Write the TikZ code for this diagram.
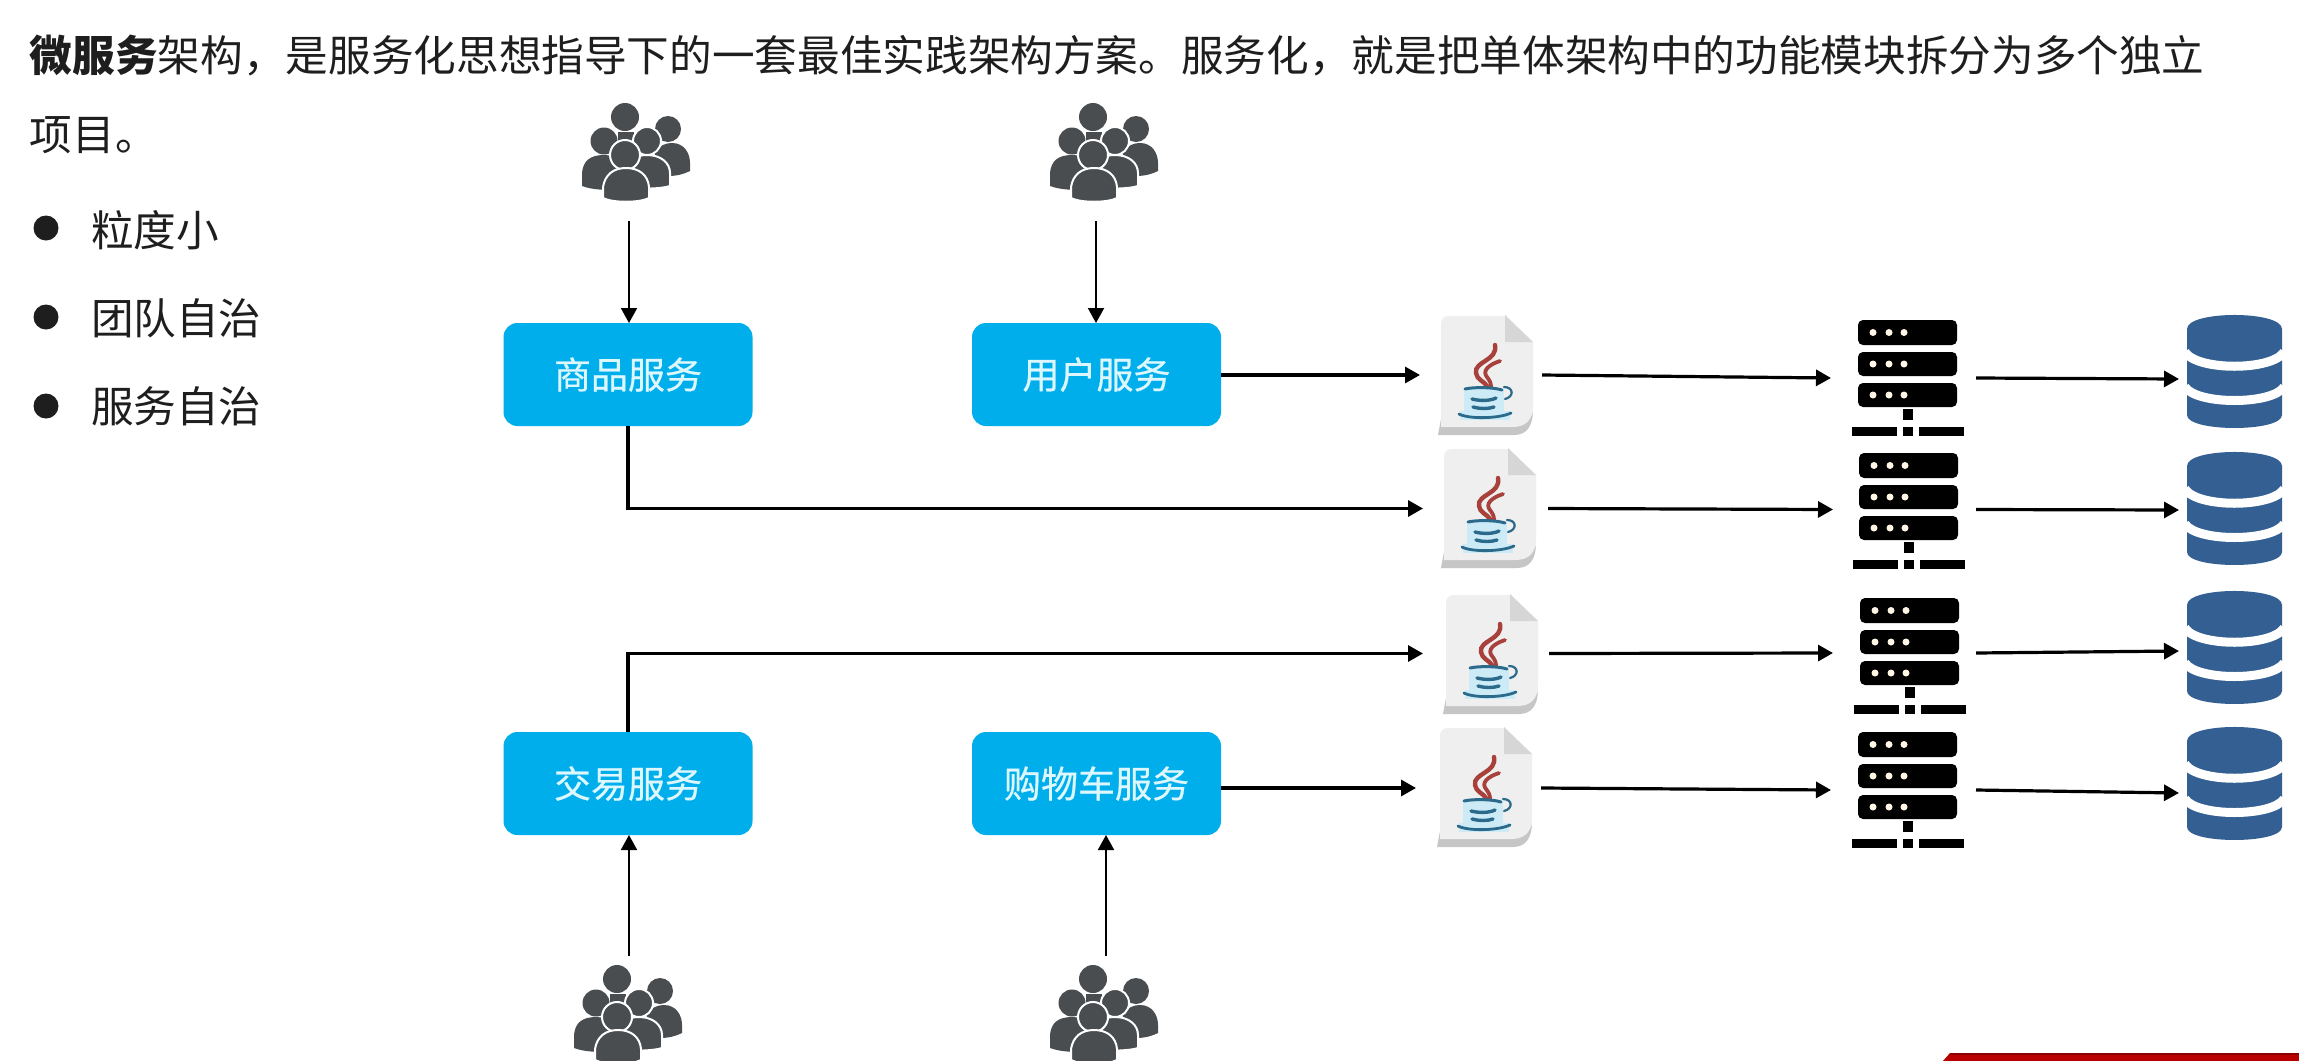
\documentclass[tikz,border=0pt]{standalone}
\usepackage{fontspec}
\setmainfont{Noto Sans CJK SC}
\newfontfamily\boxfont[FakeBold=0.6]{Noto Sans CJK SC}
\usetikzlibrary{arrows.meta,calc}
\definecolor{boxblue}{HTML}{00AEEC}
\definecolor{boxtext}{HTML}{DDF7FF}
\definecolor{peoplegray}{HTML}{4A4D4F}
\definecolor{dbblue}{HTML}{335F92}
\definecolor{inktext}{HTML}{1E1E1E}
\definecolor{barred}{HTML}{B80000}
\definecolor{bardark}{HTML}{8E0000}
\definecolor{paper}{HTML}{EFEFEF}
\definecolor{papershade}{HTML}{C6C6C6}
\definecolor{foldgray}{HTML}{D6D6D6}
\definecolor{steamred}{HTML}{A8403C}
\definecolor{cupblue}{HTML}{2B6A8A}
\definecolor{cupglow}{HTML}{CDEBF7}
\definecolor{dotcream}{HTML}{FFF6E6}
\tikzset{
  x=0.5pt,y=-0.5pt,
  svcbox/.style={draw=none,fill=boxblue,rounded corners=7pt,minimum width=124.5pt,minimum height=51.5pt,inner sep=0pt,outer sep=0pt,text=boxtext,font=\boxfont\fontsize{18.5}{22}\selectfont},
  hitbox/.style 2 args={minimum width=#1*0.5pt,minimum height=#2*0.5pt,inner sep=0pt,outer sep=0pt},
  bodytext/.style={anchor=west,inner sep=0pt,outer sep=0pt,text=inktext,font=\fontsize{21.32}{26}\selectfont},
  bulletdot/.style={circle,fill=inktext,draw=none,minimum size=12.5pt,inner sep=0pt},
  thinflow/.style={draw=black,line width=1pt,-{Triangle[length=7.5pt,width=8pt]}},
  flow/.style={draw=black,line width=1.6pt,-{Triangle[length=7.5pt,width=8pt]}},
  people/.pic={
    \fill[peoplegray] (43,14) circle (14);
    \fill[peoplegray] (36,29) rectangle (52,40);
    \fill[peoplegray] (86,26) circle (13);
    \fill[peoplegray] (72,50) .. controls (78,42) and (84,40) .. (90,40) .. controls (102,40) and (108,50) .. (108,60) -- (108,68) .. controls (102,71) and (95,73) .. (86,73) -- cycle;
    \path[fill=peoplegray,draw=white,line width=1pt] (65,38) circle (14);
    \path[fill=peoplegray,draw=white,line width=1pt] (42,83) -- (42,70) .. controls (43,58) and (52,52) .. (65,52) .. controls (79,52) and (88,60) .. (88,70) -- (88,83) .. controls (80,86) and (50,87) .. (42,83) -- cycle;
    \fill[peoplegray] (22,38) circle (13.5);
    \fill[peoplegray] (0,83) -- (0,70) .. controls (1,58) and (8,52) .. (22,52) .. controls (36,52) and (44,60) .. (44,70) -- (44,86) .. controls (30,88) and (10,87) .. (0,83) -- cycle;
    \path[fill=peoplegray,draw=white,line width=1pt] (43,52) circle (15);
    \path[fill=peoplegray,draw=white,line width=1pt] (21,95) -- (21,84) .. controls (23,72) and (31,65) .. (44,65) .. controls (57,65) and (66,72) .. (67,84) -- (67,95) .. controls (58,100) and (30,100) .. (21,95) -- cycle;
  },
  javadoc/.pic={
    \fill[papershade] (0,120) -- (3,104) -- (90,104) .. controls (95,100) and (95,98) .. (95,95) .. controls (95,112) and (88,120) .. (76,120) -- cycle;
    \fill[paper] (3,112) -- (3,10) .. controls (3,3) and (6,1) .. (12,1) -- (67,1) -- (95,27) -- (95,90) .. controls (95,105) and (88,112) .. (74,112) -- cycle;
    \fill[foldgray] (67,0) -- (95,27) -- (67,27) -- cycle;
    \fill[cupglow] (26,73) rectangle (66,96);
    \fill[cupglow] (22,96) rectangle (72,105);
    \draw[steamred,line width=2.2pt,line cap=round] (57,30) .. controls (60,46) and (36,46) .. (38,58) .. controls (39,65) and (46,66) .. (49,71);
    \draw[steamred,line width=1.9pt,line cap=round] (62,46) .. controls (50,50) and (44,56) .. (49,62) .. controls (52,66) and (53,68) .. (53,72);
    \draw[cupblue,line width=1.5pt,line cap=round] (27,74) .. controls (35,72) and (55,72) .. (64,75);
    \draw[cupblue,line width=1.7pt,line cap=round] (34,84) .. controls (42,86) and (52,86) .. (58,83);
    \draw[cupblue,line width=1.7pt,line cap=round] (35,92) .. controls (42,94) and (50,94) .. (56,92);
    \draw[cupblue,line width=1.4pt,line cap=round] (21,99) .. controls (30,104) and (60,104) .. (73,98);
    \draw[cupblue,line width=1.1pt,line cap=round] (66,72) .. controls (76,72) and (76,82) .. (67,84);
  },
  serverstack/.pic={
    \fill[black,rounded corners=2.5pt] (6,0) rectangle (105,25);
    \fill[black,rounded corners=2.5pt] (6,32) rectangle (105,56);
    \fill[black,rounded corners=2.5pt] (6,63) rectangle (105,87);
    \foreach \yy in {12.5,44,75}{
      \foreach \xx in {21,37,52}{
        \fill[dotcream] (\xx,\yy) circle (3.5);
      }
    }
    \fill[black] (51,89) rectangle (61,100);
    \fill[black] (0,107) rectangle (45,116);
    \fill[black] (51,107) rectangle (61,116);
    \fill[black] (67,107) rectangle (112,116);
  },
  dbstack/.pic={
    \fill[dbblue] (0,14) .. controls (0,-4.7) and (95,-4.7) .. (95,14) -- (95,100) .. controls (95,117.3) and (0,117.3) .. (0,100) -- cycle;
    \draw[white,line width=4.5pt] (-2,37) .. controls (10,56) and (85,56) .. (97,37);
    \draw[white,line width=4.5pt] (-2,72) .. controls (10,90) and (85,90) .. (97,72);
  },
}
\begin{document}
\begin{tikzpicture}
\path[use as bounding box,clip] (0,0) rectangle (2299,1061);
\fill[white] (0,0) rectangle (2299,1061);

% text
\node[bodytext] (line1) at (30,56) {{\bfseries 微服务}架构，是服务化思想指导下的一套最佳实践架构方案。服务化，就是把单体架构中的功能模块拆分为多个独立};
\node[bodytext] (line2) at (30,135) {项目。};
\node[bulletdot] (dot1) at (46,228) {};
\node[bulletdot] (dot2) at (46,317) {};
\node[bulletdot] (dot3) at (46,406) {};
\node[bodytext] (item1) at (91,230) {粒度小};
\node[bodytext] (item2) at (91,318) {团队自治};
\node[bodytext] (item3) at (91,406) {服务自治};

% services
\node[svcbox] (b1) at (628,374.5) {商品服务};
\node[svcbox] (b2) at (1096.5,374.5) {用户服务};
\node[svcbox] (b3) at (628,783.5) {交易服务};
\node[svcbox] (b4) at (1096.5,783.5) {购物车服务};

% people
\pic at (582,103) {people};
\pic at (1050,103) {people};
\pic at (574,965) {people};
\pic at (1050,965) {people};
\node[hitbox={108}{118}] (u1) at (629,162) {};
\node[hitbox={108}{118}] (u2) at (1096,162) {};
\node[hitbox={108}{105}] (u3) at (629,1008.5) {};
\node[hitbox={108}{105}] (u4) at (1106,1008.5) {};

% java files
\pic at (1438,315) {javadoc};
\pic at (1441,448) {javadoc};
\pic at (1443,594) {javadoc};
\pic at (1437,727) {javadoc};
\node[hitbox={122}{121}] (j1) at (1481,375) {};
\node[hitbox={125}{121}] (j2) at (1485.5,508.5) {};
\node[hitbox={126}{121}] (j3) at (1486,653.5) {};
\node[hitbox={125}{121}] (j4) at (1478.5,788) {};

% servers
\pic at (1852,320) {serverstack};
\pic at (1853,453) {serverstack};
\pic at (1854,598) {serverstack};
\pic at (1852,732) {serverstack};
\node[hitbox={145}{116}] (s1) at (1903.5,378) {};
\node[hitbox={143}{116}] (s2) at (1904.5,509.5) {};
\node[hitbox={143}{116}] (s3) at (1904.5,653) {};
\node[hitbox={145}{116}] (s4) at (1903.5,790) {};

% databases
\pic at (2187,315) {dbstack};
\pic at (2187,452) {dbstack};
\pic at (2187,591) {dbstack};
\pic at (2187,727) {dbstack};
\node[hitbox={103}{113}] (d1) at (2230.5,379) {};
\node[hitbox={103}{113}] (d2) at (2230.5,510) {};
\node[hitbox={103}{113}] (d3) at (2230.5,651) {};
\node[hitbox={103}{113}] (d4) at (2230.5,793) {};

% corner bar
\fill[barred] (1943,1061) -- (1950,1053) -- (2299,1053) -- (2299,1061) -- cycle;
\fill[bardark] (1950,1053) rectangle (2299,1055);

% connectors
\draw[thinflow] (u1.south) -- (u1.south |- b1.north);
\draw[thinflow] (u2.south) -- (u2.south |- b2.north);
\draw[thinflow] (u3.north) -- (u3.north |- b3.south);
\draw[thinflow] (u4.north) -- (u4.north |- b4.south);

\draw[flow] (b2.east |- j1.west) -- (j1.west);
\draw[flow] (b1.south) |- (j2.west);
\draw[flow] (b3.north) |- (j3.west);
\draw[flow] (b4.east |- j4.west) -- (j4.west);

\foreach \r in {1,2,3,4}{
  \draw[flow] (j\r.east) -- (s\r.west);
  \draw[flow] (s\r.east) -- (d\r.west);
}
\end{tikzpicture}
\end{document}
